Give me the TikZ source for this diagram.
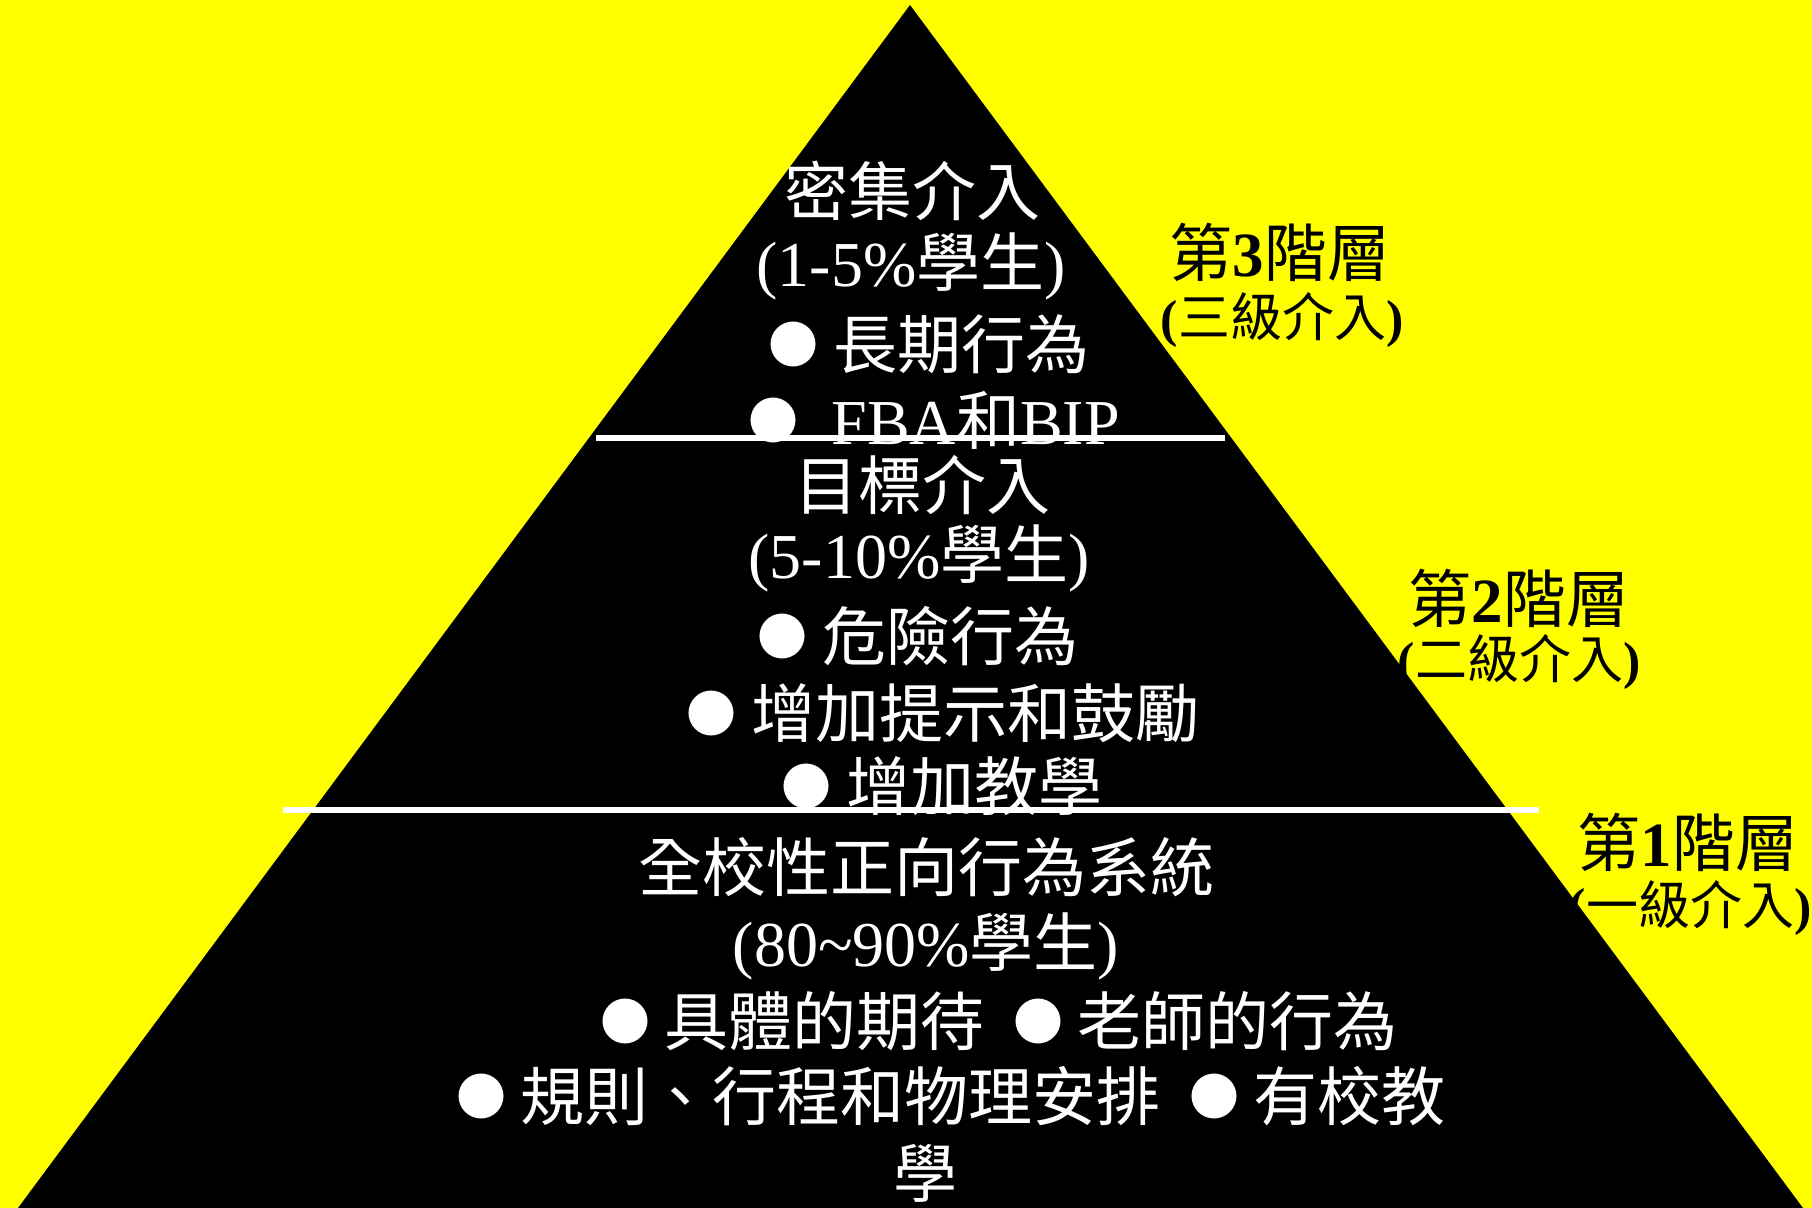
\documentclass[tikz,border=0pt]{standalone}
\usepackage{fontspec}
\setmainfont{Liberation Serif}
\newfontfamily\cjk{Noto Sans CJK TC}
\usetikzlibrary{positioning}
\definecolor{bgyellow}{RGB}{255,255,0}
\tikzset{
        tiertext/.style = {text=white, inner sep=0pt,
            font=\fontsize{32}{37}\selectfont},
        tierlabel/.style = {text=black, inner sep=0pt,
            font=\fontsize{31.5}{36}\selectfont},
        tiersub/.style = {text=black, inner sep=0pt,
            font=\fontsize{26}{30}\selectfont},
        divider/.style = {draw=white, line width=2.6pt},
    }
\newcommand{\dotmark}{\raisebox{0.07em}{\fontsize{25}{29}\selectfont\cjk ●}\hspace{0.22em}}

\begin{document}
\begin{tikzpicture}[x=0.5pt,y=-0.5pt]
  \useasboundingbox (0,0) rectangle (1812,1208);
  % background and pyramid
  \fill[bgyellow] (0,0) rectangle (1812,1208);
  \coordinate (apex) at (910,5);
  \coordinate (baseL) at (18,1208);
  \coordinate (baseR) at (1803,1208);
  \fill[black] (apex) -- (baseL) -- (baseR) -- cycle;

  % tier 3
  \node[tiertext] (t3a) at (912,191) {\cjk 密集介入};
  \node[tiertext] (t3b) at (911,266) {(1-5\%{\cjk 學生})};
  \node[tiertext] (t3c) at (929,344) {\dotmark{\cjk 長期行為}};
  \node[tiertext] (t3d) at (934,420) {\dotmark\hspace{0.3em}FBA{\cjk 和}BIP};

  % tier 2
  \node[tiertext] (t2a) at (922,485) {\cjk 目標介入};
  \node[tiertext] (t2b) at (919,558) {(5-10\%{\cjk 學生})};
  \node[tiertext] (t2c) at (918,636) {\dotmark{\cjk 危險行為}};
  \node[tiertext] (t2d) at (943,713) {\dotmark{\cjk 增加提示和鼓勵}};
  \node[tiertext] (t2e) at (942,786) {\dotmark{\cjk 增加教學}};

  % tier 1
  \node[tiertext] (t1a) at (926,867) {\cjk 全校性正向行為系統};
  \node[tiertext] (t1b) at (926,946) {(80\textasciitilde90\%{\cjk 學生})};
  \node[tiertext] (t1c) at (999,1021) {\dotmark{\cjk 具體的期待}\hspace{0.45em}\dotmark{\cjk 老師的行為}};
  \node[tiertext] (t1d) at (951,1096) {\dotmark{\cjk 規則、行程和物理安排}\hspace{0.45em}\dotmark{\cjk 有校教}};
  \node[tiertext] (t1e) at (925,1173) {\cjk 學};

  % dividers
  \draw[divider] (596,438) -- (1225,438);
  \draw[divider] (283,810) -- (1539,810);

  % level labels
  \node[tierlabel] (lv3) at (1280,252) {{\cjk 第}\textbf{3}{\cjk 階層}};
  \node[tiersub] (lv3s) at (1282,320) {\textbf{(}{\cjk 三級介入}\textbf{)}};
  \node[tierlabel] (lv2) at (1519,598) {{\cjk 第}\textbf{2}{\cjk 階層}};
  \node[tiersub] (lv2s) at (1519,662) {\textbf{(}{\cjk 二級介入}\textbf{)}};
  \node[tierlabel] (lv1) at (1688,842) {{\cjk 第}\textbf{1}{\cjk 階層}};
  \node[tiersub] (lv1s) at (1690,908) {\textbf{(}{\cjk 一級介入}\textbf{)}};
\end{tikzpicture}
\end{document}
